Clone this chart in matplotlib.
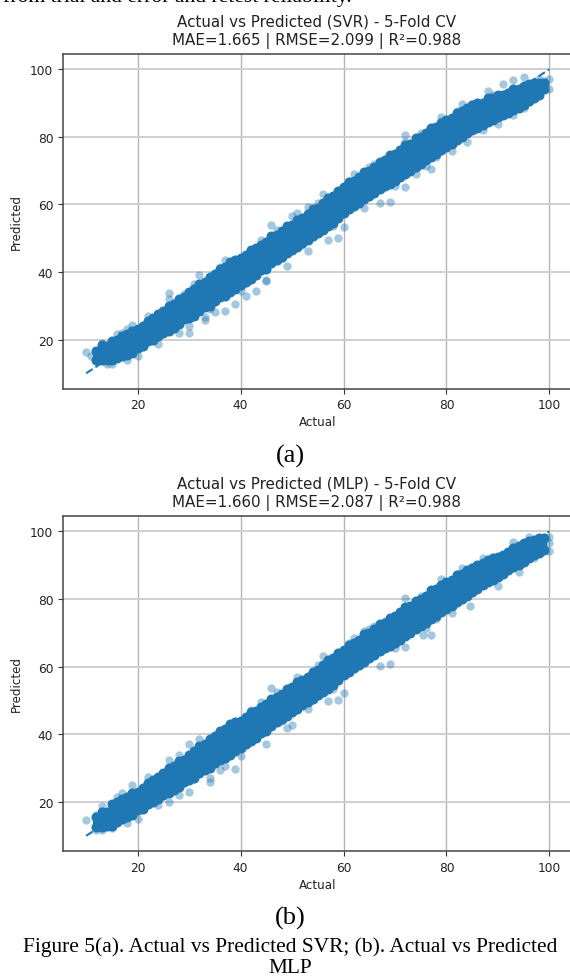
import matplotlib
matplotlib.use("Agg")
import matplotlib.pyplot as plt

# columns of the dense band, by actual value
actual = list(range(12, 100))

svr_hi = [16.5, 18.5, 18, 19.5, 20, 21, 21.5, 22.5, 23, 24, 25.5, 26.5, 27.5, 28.5, 30, 30.5, 32, 32.5, 34, 35,
          36.5, 37, 38.5, 39.5, 41, 41.5, 43, 43.5, 44, 45, 46.5, 47, 48, 49, 50.5, 51, 52, 53.5,
          54, 55.5, 56, 57, 58.5, 59, 60.5, 62, 62.5, 64, 65, 66.5, 67, 68, 69.5, 70, 71,
          72.5, 73, 74.5, 75, 76, 77.5, 78, 79.5, 80, 81, 82.5, 83, 84, 85, 85.5, 87, 87.5,
          88.5, 89.5, 90, 90, 91.5, 91.5, 92.5, 92.5, 93, 94, 94, 95, 95.5, 96, 96, 96]
svr_lo = [14, 14, 14, 14, 14.5, 15, 15.5, 16, 17.5, 18, 19.5, 20, 21, 22, 22.5, 23.5, 24.5, 26, 26.5,
          27, 28.5, 29.5, 30, 31.5, 32.5, 33, 34, 35, 36, 37, 38, 39, 40.5, 41, 42.5, 43.5, 44.5, 45.5, 46.5, 47.5,
          48.5, 49.5, 50.5, 51.5, 52.5, 53.5, 54.5, 56, 57.5, 58.5, 59.5, 60.5, 61.5, 62.5, 63.5, 64.5, 65.5, 66, 67, 68, 69,
          70, 71, 72, 73, 74, 75, 76, 77, 78, 79, 80, 81, 82, 82.5, 83.5, 84.5, 85,
          86, 86.5, 87, 88, 88.5, 89.5, 90.5, 91.5, 92.5, 94]

mlp_hi = [15.5, 17, 17, 19.5, 20, 21, 21.5, 22.5, 23, 24, 25.5, 26.5, 27.5, 28.5, 30, 30.5, 32, 32.5, 34, 35,
          36.5, 37, 38.5, 39.5, 41, 41.5, 43, 43.5, 44, 45, 46.5, 47, 48, 49, 50.5, 51, 52, 53.5,
          54, 55.5, 56, 57, 58.5, 59, 60.5, 62, 62.5, 64, 65, 66.5, 67, 68, 69.5, 70, 71,
          72.5, 73, 74.5, 75, 76, 77.5, 78, 79.5, 80, 81, 82.5, 83, 84, 85, 85.5, 87, 87.5,
          88.5, 89, 90, 90.5, 91.5, 92, 92.5, 93, 94, 95, 95.5, 96.5, 97, 97.5, 98, 98]
mlp_lo = [12.5, 12.5, 13, 13, 14, 15, 15.5, 16, 17.5, 18, 19.5, 20, 21, 22, 22.5, 23.5, 24.5, 26, 26.5,
          27, 28.5, 29.5, 30, 31.5, 32.5, 33, 34, 35, 36, 37, 38, 39, 40.5, 41, 42.5, 43.5, 44.5, 45.5, 46.5, 47.5,
          48.5, 49.5, 50.5, 51.5, 52.5, 53.5, 54.5, 56, 57.5, 58.5, 59.5, 60.5, 61.5, 62.5, 63.5, 64.5, 65.5, 66, 67, 68, 69,
          70, 71, 72, 73, 74, 75, 76, 77, 78, 79, 80, 81, 82, 83, 84, 85,
          85.5, 86.5, 87.5, 88.5, 89.5, 90, 91, 92, 93, 93.5, 94.5]

# loose points on the rim of the band
svr_edge_x = [10, 11, 12, 13, 13, 16, 17, 18, 19, 20, 18, 14, 15, 23, 26, 26, 28, 30, 30, 31, 32, 33, 33, 35,
              37, 39, 45, 43, 41, 36, 37, 46, 56, 57, 59, 60, 53, 45, 69, 67, 50, 53, 62, 66, 72, 72, 79, 79,
              83, 88, 91, 93, 95, 100, 100, 97, 95, 93, 90, 84, 81, 77, 74, 72, 98, 99,
              22, 24, 29, 34, 40, 44, 48, 52, 55, 58, 64, 68, 70, 75, 78, 85, 87, 89, 47, 49, 51, 61, 65, 76, 82]
svr_edge_y = [16.3, 15, 16.5, 19, 17.5, 21.5, 22, 23, 24.3, 15.2, 13.8, 12.8, 12.8, 26.5, 33.8, 32, 21.8, 21.8,
              24, 36.3, 39, 25.7, 26.8, 28, 28.5, 30.5, 37.2, 34.5, 33, 41.5, 43.5, 54, 63, 49.5, 50, 53.3,
              46.3, 37.7, 60.7, 60.4, 56.7, 59.2, 69, 72, 80.4, 78.6, 86, 84.6, 89.8, 93.5, 95.5, 96.7, 97.8,
              97, 94, 91.6, 88.6, 86.4, 83.9, 78.5, 75.7, 70.5, 69, 65.2, 97.2, 96.5,
              27, 18.8, 33.6, 29, 34.5, 49.5, 44, 48, 60.5, 53.5, 59, 73.5, 65.5, 81, 74, 89.8, 82, 92.5, 52.5, 41.8, 57.5, 67, 71, 71.5, 87.5]

mlp_edge_x = [10, 13, 13, 12, 16, 17, 19, 20, 18, 15, 13, 12, 26, 30, 32, 26, 28, 30, 34, 34, 37, 39, 45, 42,
              46, 56, 51, 57, 59, 60, 50, 69, 67, 66, 64, 62, 72, 79, 83, 87, 93, 96, 100, 100, 100, 97, 94,
              90, 84.5, 81, 77, 75.5, 72, 99,
              22, 24, 28, 36, 40, 44, 48, 53, 55, 58, 68, 70, 75, 78, 85, 89, 47, 49, 61, 65, 76, 82]
mlp_edge_y = [14.8, 18.8, 17.3, 16, 21.4, 22.5, 24.9, 15, 13.7, 12.2, 11.7, 11.7, 32.4, 37, 38.6, 20, 22, 23,
              25.9, 27, 30.6, 29.7, 37, 47.2, 53.7, 63.2, 57, 49.8, 50.2, 52.2, 42.7, 60.8, 60.2, 72, 70.6,
              68.4, 80.4, 85.8, 89.2, 92.2, 96.7, 98.2, 98.4, 96.4, 94.3, 92, 88, 83.7, 78, 75.7, 69.4, 69.2,
              65.9, 98,
              27.5, 19, 34, 29.5, 33.5, 49.5, 44, 47.5, 60.5, 53.5, 73.5, 65.5, 81, 74, 89.5, 92.5, 52.5, 41.8, 67, 71, 71.5, 87.5]

ideal = [10, 100]
tick_x = [20, 40, 60, 80, 100]
tick_y = [20, 40, 60, 80, 100]

W, H = 570, 978
fig = plt.figure(figsize=(W / 100, H / 100), dpi=100)


def panel(top, bottom, lo, hi, ex, ey, title):
    ax = fig.add_axes([63 / W, 1 - bottom / H, 509.6 / W, (bottom - top) / H])
    ax.set_axisbelow(True)
    ax.vlines(actual, lo, hi, color="#1f77b4", linewidth=4.4)
    ax.scatter(actual, lo, s=52, color="#1f77b4", linewidths=0)
    ax.scatter(actual, hi, s=52, color="#1f77b4", linewidths=0)
    ax.scatter(ex, ey, s=36, color="#1f77b4", alpha=0.4, linewidths=0)
    ax.plot(ideal, ideal, "--", color="#1f77b4", linewidth=1.5)
    ax.set_xticks(tick_x)
    ax.set_yticks(tick_y)
    ax.tick_params(labelsize=8.8, length=3.5, width=0.8, color="#333333", labelcolor="#222222")
    ax.grid(axis="x", color="#b4b4b4", linewidth=1.0)
    ax.grid(axis="y", color="#cfcfcf", linewidth=1.4)
    for s in ax.spines.values():
        s.set_color("#444444")
        s.set_linewidth(1.1)
    ax.set_xlabel("Actual", fontsize=8.6, color="#222222", labelpad=3)
    ax.set_ylabel("Predicted", fontsize=8.6, color="#222222", labelpad=5)
    fig.text(316.5 / W, 1 - (top - 6) / H, title, ha="center", va="bottom", fontsize=10.9,
             color="#222222", linespacing=1.28)
    return ax


panel(55, 389.5, svr_lo, svr_hi, svr_edge_x, svr_edge_y,
      "Actual vs Predicted (SVR) - 5-Fold CV\nMAE=1.665 | RMSE=2.099 | R²=0.988")
panel(517, 852, mlp_lo, mlp_hi, mlp_edge_x, mlp_edge_y,
      "Actual vs Predicted (MLP) - 5-Fold CV\nMAE=1.660 | RMSE=2.087 | R²=0.988")

serif = "Liberation Serif"
fig.text(3 / W, 1 - 2 / H, "from trial and error and retest reliability.", family=serif, fontsize=15.6,
         ha="left", va="baseline", color="black")
fig.text(290 / W, 1 - 456 / H, "(a)", family=serif, fontsize=19, ha="center", va="center", color="black")
fig.text(290 / W, 1 - 918 / H, "(b)", family=serif, fontsize=19, ha="center", va="center", color="black")
fig.text(290.5 / W, 1 - 947 / H, "Figure 5(a). Actual vs Predicted SVR; (b). Actual vs Predicted", family=serif,
         fontsize=15.4, ha="center", va="center", color="black")
fig.text(290.5 / W, 1 - 969 / H, "MLP", family=serif, fontsize=15.4, ha="center", va="center", color="black")

fig.savefig("out.png", dpi=100)
